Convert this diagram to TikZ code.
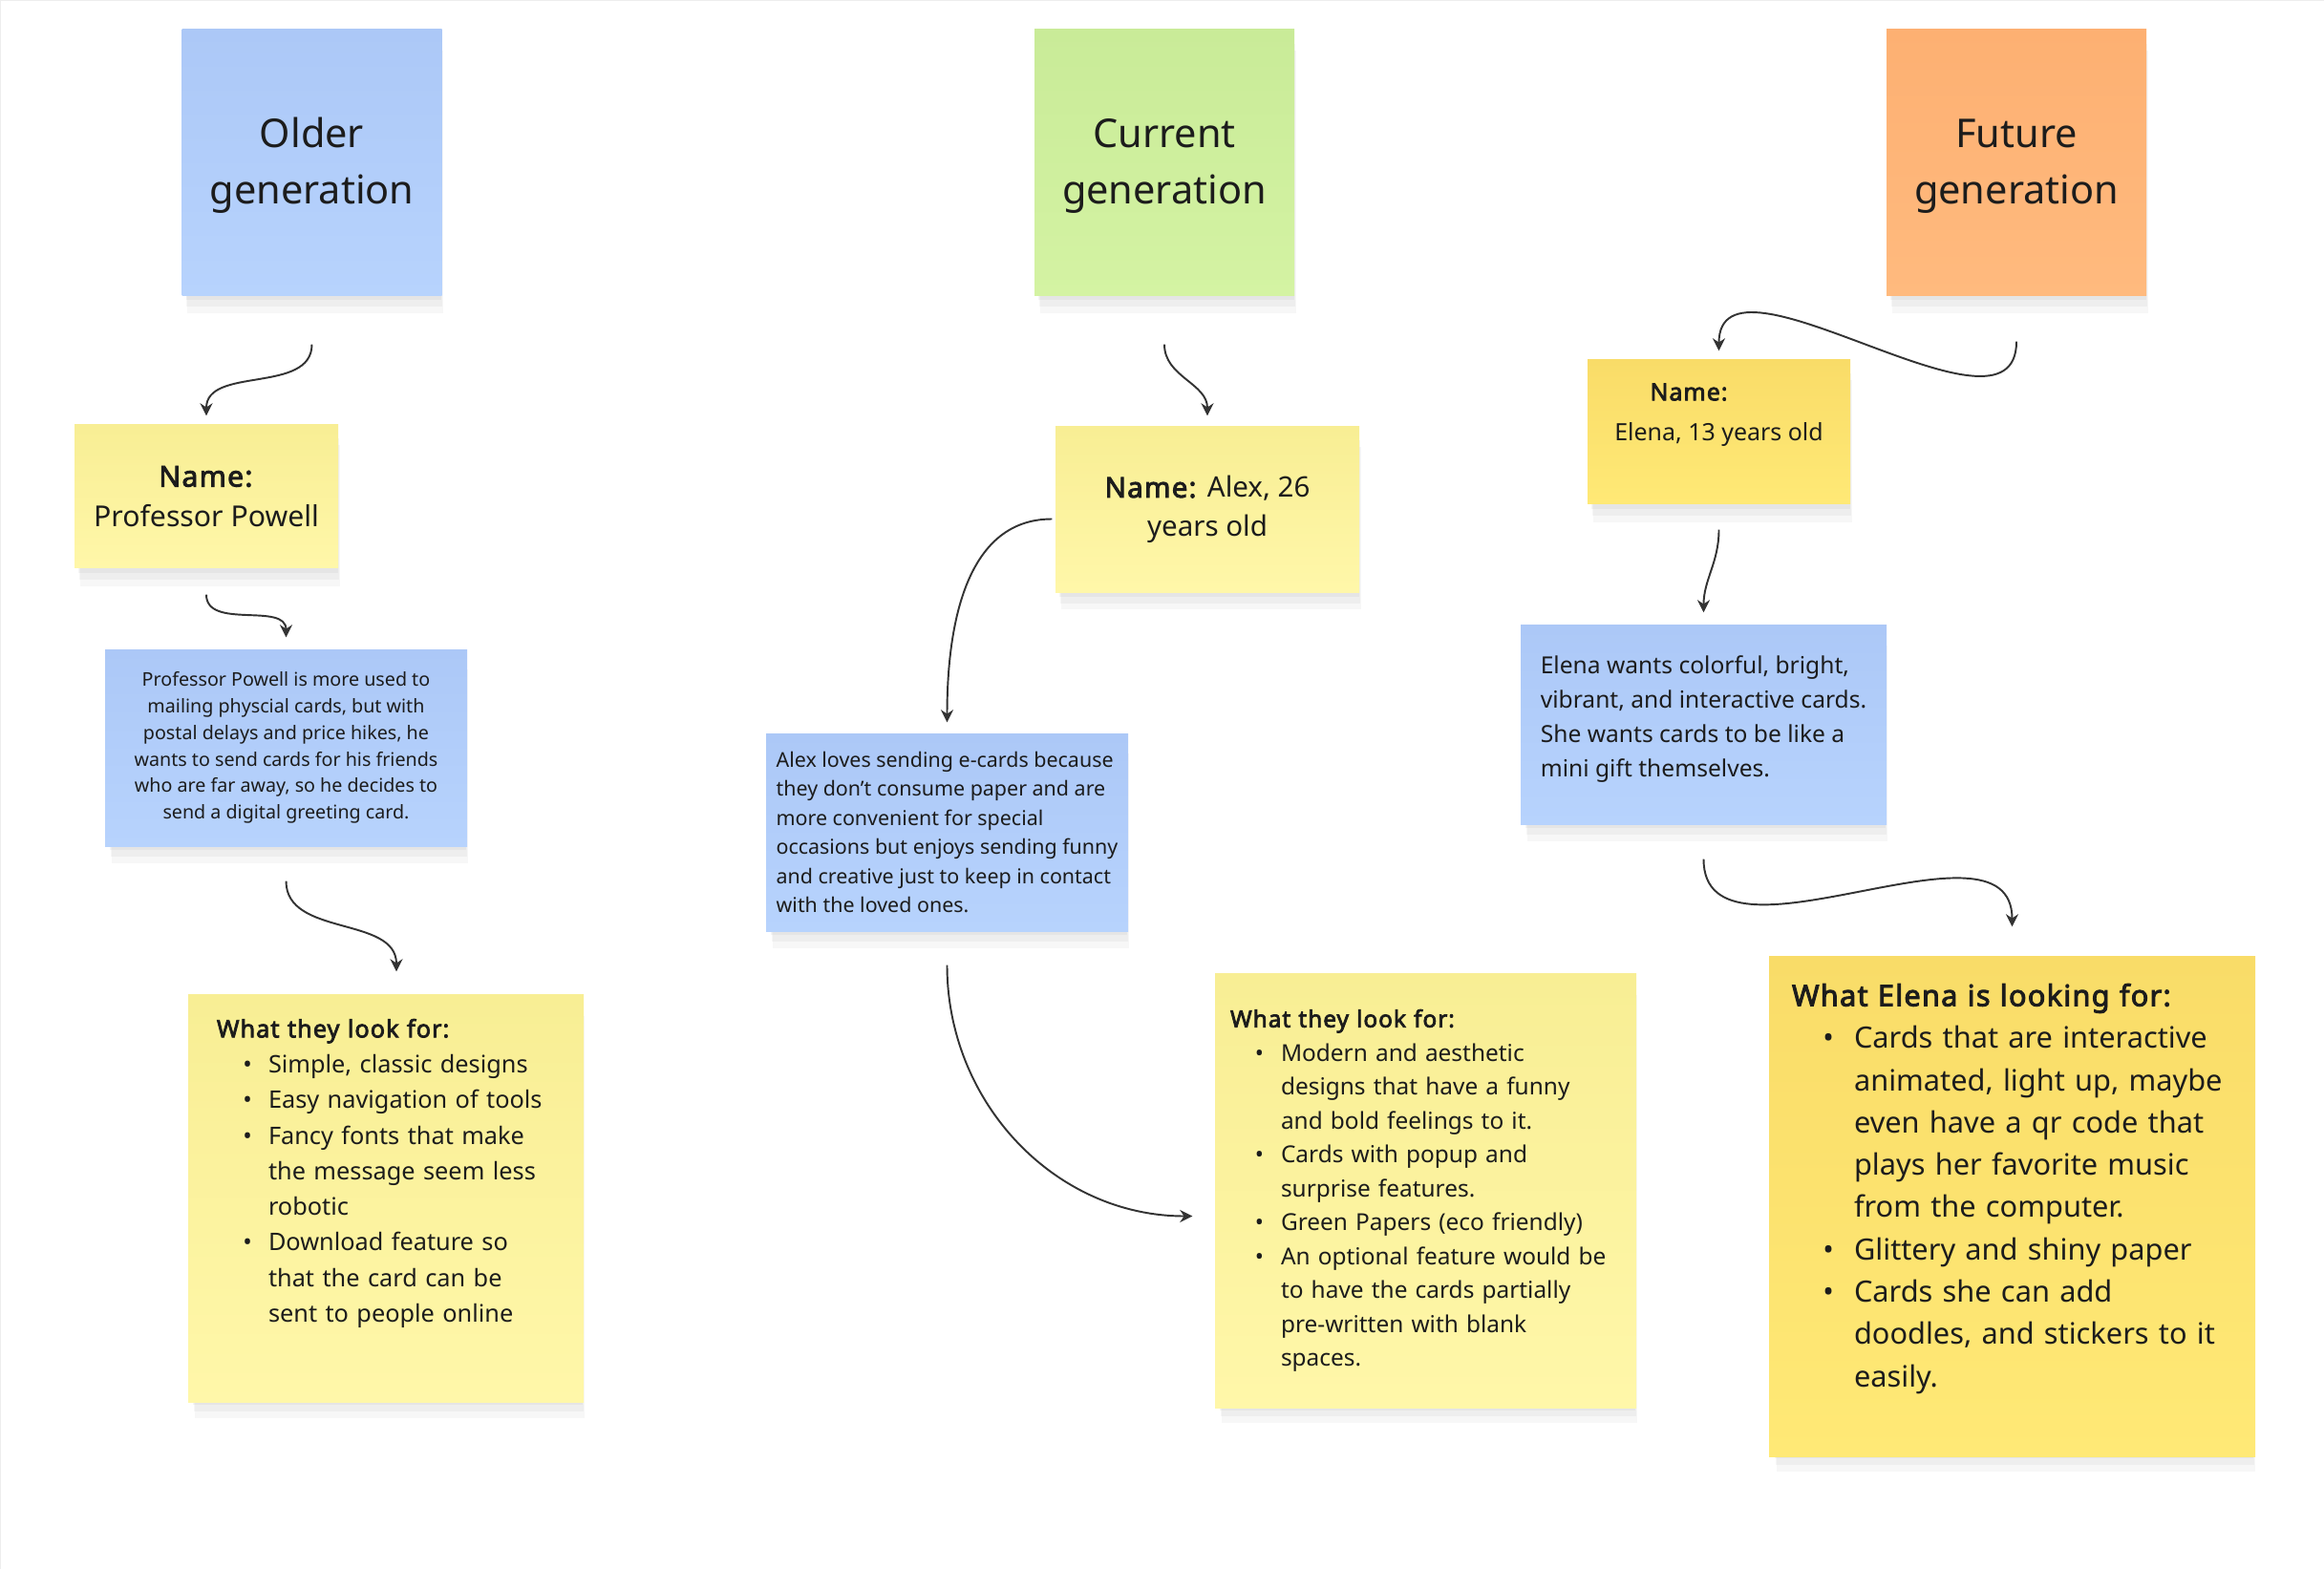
\documentclass[tikz,border=0pt]{standalone}
\usepackage{fontspec}
\setmainfont{Noto Sans}[BoldFont={Noto Sans},BoldFeatures={FakeBold=3,LetterSpace=4}]
\usepackage{enumitem}
\usetikzlibrary{arrows.meta,shadows}
\definecolor{bluetop}{HTML}{ACC8F7}
\definecolor{bluebot}{HTML}{B7D3FD}
\definecolor{greentop}{HTML}{C9EB98}
\definecolor{greenbot}{HTML}{D4F3A3}
\definecolor{orangetop}{HTML}{FDB072}
\definecolor{orangebot}{HTML}{FFBA7E}
\definecolor{paletop}{HTML}{F8EE94}
\definecolor{palebot}{HTML}{FFF7A9}
\definecolor{goldtop}{HTML}{F9DC68}
\definecolor{goldbot}{HTML}{FFE976}
\definecolor{ink}{HTML}{1C1C1C}
\definecolor{wire}{HTML}{333333}
\newcommand{\fs}[2]{\fontsize{#1}{#2}\selectfont}
\begin{document}
\begin{tikzpicture}[
  sticky/.style={inner sep=0pt,text=ink,align=center,
    general shadow={shadow scale=0.985,shadow xshift=0.2mm,shadow yshift=-0.6mm,fill=black,opacity=0.04},
    general shadow={shadow scale=0.985,shadow xshift=0.3mm,shadow yshift=-1.3mm,fill=black,opacity=0.035},
    general shadow={shadow scale=0.985,shadow xshift=0.4mm,shadow yshift=-2mm,fill=black,opacity=0.03}},
  bluenote/.style={sticky,top color=bluetop,bottom color=bluebot},
  greennote/.style={sticky,top color=greentop,bottom color=greenbot},
  orangenote/.style={sticky,top color=orangetop,bottom color=orangebot},
  palenote/.style={sticky,top color=paletop,bottom color=palebot},
  goldnote/.style={sticky,top color=goldtop,bottom color=goldbot},
  gen/.style={minimum width=2.72cm,minimum height=2.79cm,font=\fs{11.8}{16.8}},
  txt/.style={inner sep=0pt,text=ink},
  link/.style={draw=wire,line width=0.55pt,-{Stealth[length=1.3mm,width=1.3mm]}}]
\useasboundingbox (0,0) rectangle (24.33,-16.43);
\draw[black!7] (0,-16.43) -- (0,0) -- (24.33,0);
% generations
\node[bluenote,gen] (older) at (3.265,-1.705) {\rule{0pt}{10.7pt}Older\\generation};
\node[greennote,gen] (current) at (12.19,-1.705) {\rule{0pt}{10.7pt}Current\\generation};
\node[orangenote,gen] (future) at (21.11,-1.705) {\rule{0pt}{10.7pt}Future\\generation};
% older column
\node[palenote,minimum width=2.76cm,minimum height=1.50cm,font=\fs{8.6}{12}] (powellname) at (2.16,-5.20) {\textbf{Name:}\\Professor Powell};
\node[bluenote,minimum width=3.79cm,minimum height=2.06cm,font=\fs{5.6}{7.9}] (powellstory) at (2.995,-7.83)
  {Professor Powell is more used to\\mailing physcial cards, but with\\postal delays and price hikes, he\\wants to send cards for his friends\\who are far away, so he decides to\\send a digital greeting card.};
\node[palenote,minimum width=4.14cm,minimum height=4.27cm] (oldwants) at (4.04,-12.545) {};
\node[txt,anchor=north west,text width=4cm,align=left,font=\fs{7.2}{10.6}] (oldwantstext) at ([xshift=3mm,yshift=-2.6mm]oldwants.north west)
  {\textbf{What they look for:}
  \begin{itemize}[nosep,label=\textbullet,leftmargin=5.4mm,labelsep=1.7mm]
  \item Simple, classic designs
  \item Easy navigation of tools
  \item Fancy fonts that make\\the message seem less\\robotic
  \item Download feature so\\that the card can be\\sent to people online
  \end{itemize}};
% current column
\node[palenote,minimum width=3.18cm,minimum height=1.73cm,font=\fs{8.4}{11.5}] (alexname) at (12.64,-5.335) {\textbf{Name:} Alex, 26\\years old};
\node[bluenote,minimum width=3.79cm,minimum height=2.07cm,align=left,font=\fs{6.1}{8.7}] (alexstory) at (9.915,-8.715)
  {Alex loves sending e-cards because\\they don't consume paper and are\\more convenient for special\\occasions but enjoys sending funny\\and creative just to keep in contact\\with the loved ones.};
\node[palenote,minimum width=4.41cm,minimum height=4.55cm] (alexwants) at (14.925,-12.465) {};
\node[txt,anchor=north west,text width=4.2cm,align=left,font=\fs{6.95}{10.1}] (alexwantstext) at ([xshift=1.6mm,yshift=-3.8mm]alexwants.north west)
  {\textbf{What they look for:}
  \begin{itemize}[nosep,label=\textbullet,leftmargin=5.3mm,labelsep=1.8mm]
  \item Modern and aesthetic\\designs that have a funny\\and bold feelings to it.
  \item Cards with popup and\\surprise features.
  \item Green Papers (eco friendly)
  \item An optional feature would be\\to have the cards partially\\pre-written with blank\\spaces.
  \end{itemize}};
% future column
\node[goldnote,minimum width=2.75cm,minimum height=1.51cm] (elenaname) at (17.995,-4.525) {};
\node[txt,align=center,font=\fs{7.1}{12}] (elenanametext) at ([yshift=1.8mm]elenaname.center) {\textbf{Name:}\hspace*{6.2mm}\\Elena, 13 years old};
\node[bluenote,minimum width=3.83cm,minimum height=2.08cm,align=left,font=\fs{7}{10.2}] (elenastory) at (17.835,-7.59)
  {Elena wants colorful, bright,\\vibrant, and interactive cards.\\She wants cards to be like a\\mini gift themselves.\\[-5.1pt]};
\node[goldnote,minimum width=5.09cm,minimum height=5.24cm] (elenawants) at (21.065,-12.63) {};
\node[txt,anchor=north west,text width=4.9cm,align=left,font=\fs{8.75}{12.6}] (elenawantstext) at ([xshift=2.4mm,yshift=-2.9mm]elenawants.north west)
  {\textbf{What Elena is looking for:}
  \begin{itemize}[nosep,label=\textbullet,leftmargin=6.5mm,labelsep=2.1mm]
  \item Cards that are interactive\\animated, light up, maybe\\even have a qr code that\\plays her favorite music\\from the computer.
  \item Glittery and shiny paper
  \item Cards she can add\\doodles, and stickers to it\\easily.
  \end{itemize}};
% connectors
\draw[link] ([yshift=-5mm]older.south) to[out=-90,in=90] ([yshift=0.9mm]powellname.north);
\draw[link] ([yshift=-2.7mm]powellname.south) to[out=-90,in=90] ([yshift=1.2mm]powellstory.north);
\draw[link] ([yshift=-3.6mm]powellstory.south) to[out=-90,in=90] ([xshift=1.1mm,yshift=2.3mm]oldwants.north);
\draw[link] ([yshift=-5mm]current.south) to[out=-90,in=90] ([yshift=1.1mm]alexname.north);
\draw[link] ([xshift=-0.3mm,yshift=-1mm]alexname.west) to[out=180,in=90] ([yshift=1.1mm]alexstory.north);
\draw[link] ([yshift=-3.5mm]alexstory.south) to[out=-90,in=180] ([xshift=-2.3mm,yshift=-2.7mm]alexwants.west);
\draw[link] ([yshift=-4.7mm]future.south) to[out=-90,in=90] ([yshift=0.9mm]elenaname.north);
\draw[link] ([yshift=-2.6mm]elenaname.south) to[out=-90,in=90] ([yshift=1.3mm]elenastory.north);
\draw[link] ([yshift=-3.6mm]elenastory.south) to[out=-90,in=90] ([yshift=3mm]elenawants.north);
\end{tikzpicture}
\end{document}
